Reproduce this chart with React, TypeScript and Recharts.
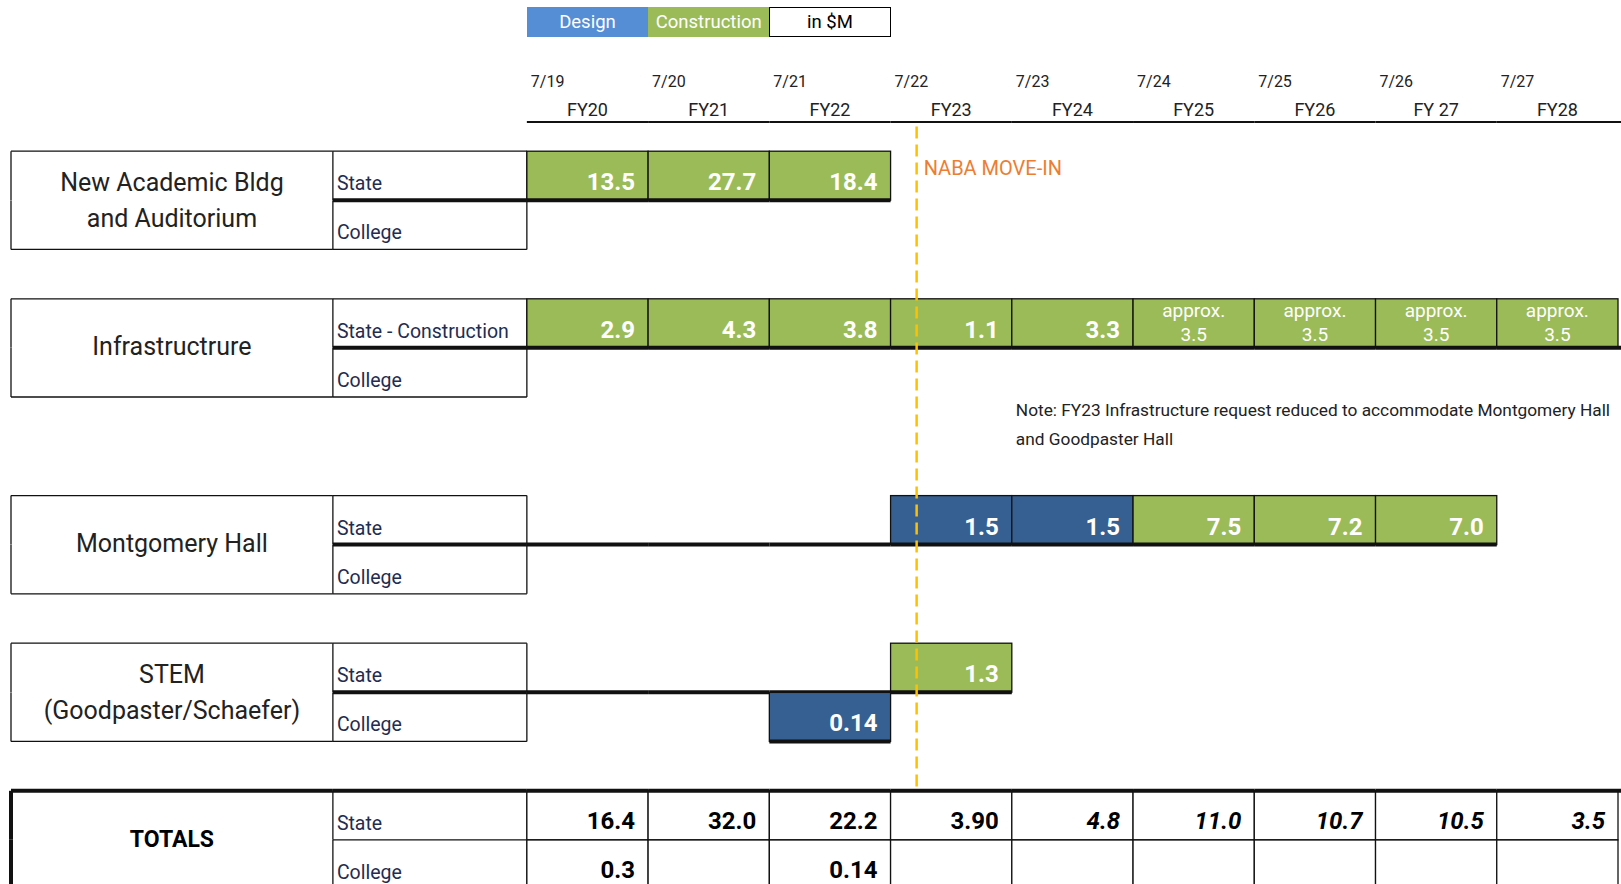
import React from 'react';
import { BarChart, Bar, XAxis, YAxis, ReferenceLine, Legend } from 'recharts';

// ---------------- data ----------------
const yearStarts = ['7/19', '7/20', '7/21', '7/22', '7/23', '7/24', '7/25', '7/26', '7/27'];
const fiscalYears = ['FY20', 'FY21', 'FY22', 'FY23', 'FY24', 'FY25', 'FY26', 'FY 27', 'FY28'];
const legendLabels = ['Design', 'Construction', 'in $M'];

const projectKeys = ['naba', 'infra', 'mont', 'stem'];
const projectNames = [
  ['New Academic Bldg', 'and Auditorium'],
  ['Infrastructrure'],
  ['Montgomery Hall'],
  ['STEM', '(Goodpaster/Schaefer)'],
];
const stateLabels = ['State', 'State - Construction', 'State', 'State'];
const collegeLabel = 'College';

// D = design, C = construction, '' = none
const nabaState = [13.5, 27.7, 18.4, null, null, null, null, null, null];
const nabaStatePhase = ['C', 'C', 'C', '', '', '', '', '', ''];
const nabaCollege = [null, null, null, null, null, null, null, null, null];
const nabaCollegePhase = ['', '', '', '', '', '', '', '', ''];

const infraState = [2.9, 4.3, 3.8, 1.1, 3.3, 3.5, 3.5, 3.5, 3.5];
const infraStatePhase = ['C', 'C', 'C', 'C', 'C', 'C', 'C', 'C', 'C'];
const infraStateApprox = [false, false, false, false, false, true, true, true, true];
const infraCollege = [null, null, null, null, null, null, null, null, null];
const infraCollegePhase = ['', '', '', '', '', '', '', '', ''];

const montState = [null, null, null, 1.5, 1.5, 7.5, 7.2, 7.0, null];
const montStatePhase = ['', '', '', 'D', 'D', 'C', 'C', 'C', ''];
const montCollege = [null, null, null, null, null, null, null, null, null];
const montCollegePhase = ['', '', '', '', '', '', '', '', ''];

const stemState = [null, null, null, 1.3, null, null, null, null, null];
const stemStatePhase = ['', '', '', 'C', '', '', '', '', ''];
const stemCollege = [null, null, 0.14, null, null, null, null, null, null];
const stemCollegePhase = ['', '', 'D', '', '', '', '', '', ''];

const totalsLabel = 'TOTALS';
const totalState = [16.4, 32.0, 22.2, 3.9, 4.8, 11.0, 10.7, 10.5, 3.5];
const totalStateDecimals = [1, 1, 1, 2, 1, 1, 1, 1, 1];
const totalStateItalic = [false, false, false, false, true, true, true, true, true];
const totalCollege = [0.3, null, 0.14, null, null, null, null, null, null];
const totalCollegeDecimals = [1, 1, 2, 1, 1, 1, 1, 1, 1];

const moveInYear = 3.215;
const moveInLabel = 'NABA MOVE-IN';
const approxWord = 'approx.';
const noteYear = 4;
const noteLines = [
  'Note: FY23 Infrastructure request reduced to accommodate Montgomery Hall',
  'and Goodpaster Hall',
];

// ---------------- layout / style ----------------
const W = 1621;
const H = 900;
const AXIS_H = 2;
const PLOT_TOP = 102;
const M_TOP = PLOT_TOP - AXIS_H;
const M_BOTTOM = 10.8;
const M_LEFT = 11;
const M_RIGHT = 3;
const LABEL_W = 2.655; // label column width in year units
const SUB_W = 1.6; // sub-label column width in year units
const X_MIN = -(LABEL_W + SUB_W);
const YEARS = fiscalYears.length;
const COL_PX = (W - M_LEFT - M_RIGHT) / (YEARS - X_MIN);

const FONT = 'Roboto, "Noto Sans", "Liberation Sans", sans-serif';
const INK = '#111111';
const THIN = 1.3;
const THICK = 4;
const DESIGN_LEGEND = '#558ED5';
const DESIGN_BAR = '#366092';
const CONSTRUCTION = '#9BBB59';
const SUB_TEXT = '#1F2D50';
const ORANGE_TEXT = '#ED7D31';
const MOVE_LINE = '#FFC000';

const projectSeries = [
  { state: nabaState, statePhase: nabaStatePhase, stateApprox: null as boolean[] | null, college: nabaCollege, collegePhase: nabaCollegePhase },
  { state: infraState, statePhase: infraStatePhase, stateApprox: infraStateApprox, college: infraCollege, collegePhase: infraCollegePhase },
  { state: montState, statePhase: montStatePhase, stateApprox: null, college: montCollege, collegePhase: montCollegePhase },
  { state: stemState, statePhase: stemStatePhase, stateApprox: null, college: stemCollege, collegePhase: stemCollegePhase },
];
const gapsAfter = [1, 2, 1, 1];

const yearKeys = fiscalYears.map((_, i) => `c${i}`);
const unitCells = () => Object.fromEntries(yearKeys.map((k) => [k, 1]));

function buildRows() {
  const rows: any[] = [{ row: 'hdr', type: 'hdr', sub: 0, lab: 0, ...unitCells() }];
  projectKeys.forEach((key, pi) => {
    const s = projectSeries[pi];
    const lastIdx = s.state.reduce((m: number, v, i) => (v != null ? i : m), -1);
    rows.push({
      row: key + 'S', type: 'proj', part: 'S', name: projectNames[pi], subLabel: stateLabels[pi],
      values: s.state, phases: s.statePhase, approx: s.stateApprox, lastIdx,
      sub: -SUB_W, lab: -LABEL_W, ...unitCells(),
    });
    rows.push({
      row: key + 'C', type: 'proj', part: 'C', subLabel: collegeLabel,
      values: s.college, phases: s.collegePhase, approx: null, lastIdx: -1,
      sub: -SUB_W, lab: -LABEL_W, ...unitCells(),
    });
    for (let g = 0; g < gapsAfter[pi]; g++) {
      rows.push({ row: `${key}Gap${g}`, type: 'gap', note: key === 'infra' && g === 0, sub: 0, lab: 0, ...unitCells() });
    }
  });
  rows.push({
    row: 'totS', type: 'total', part: 'S', name: [totalsLabel], subLabel: 'State',
    values: totalState, decimals: totalStateDecimals, italic: totalStateItalic,
    sub: -SUB_W, lab: -LABEL_W, ...unitCells(),
  });
  rows.push({
    row: 'totC', type: 'total', part: 'C', subLabel: collegeLabel,
    values: totalCollege, decimals: totalCollegeDecimals, italic: null,
    sub: -SUB_W, lab: -LABEL_W, ...unitCells(),
  });
  return rows;
}
const rows = buildRows();
const BAND = (H - PLOT_TOP - M_BOTTOM) / rows.length;

const fmt = (v: number) => v.toFixed(v < 1 ? 2 : 1);

function ln(x1: number, y1: number, x2: number, y2: number, w: number, key?: string) {
  return <line key={key} x1={x1} y1={y1} x2={x2} y2={y2} stroke={INK} strokeWidth={w} />;
}

function renderCell(p: any, col: string | number) {
  const r = p.payload;
  if (!r) return <g />;
  let x = p.x as number;
  let w = p.width as number;
  const y = p.y as number;
  const h = p.height as number;
  if (w < 0) {
    x += w;
    w = -w;
  }
  if (!(w > 0.5)) return <g />;
  const bottom = y + h;
  const isLastCol = col === YEARS - 1;
  const edge = isLastCol ? M_RIGHT : 0;

  if (r.type === 'hdr') {
    if (typeof col === 'number') return ln(x, y + 20, x + w + edge, y + 20, 2);
    return <g />;
  }
  if (r.type === 'gap') {
    if (r.note && col === noteYear) {
      return (
        <text fontFamily={FONT} fontSize={17.3} fill="#222">
          <tspan x={x + 4} y={y + 19}>{noteLines[0]}</tspan>
          <tspan x={x + 4} y={y + 48}>{noteLines[1]}</tspan>
        </text>
      );
    }
    return <g />;
  }
  const isTot = r.type === 'total';

  if (col === 'lab') {
    const lines: string[] = r.name || [];
    const cx = x + w / 2;
    return (
      <g>
        {ln(x, y, x, bottom, isTot ? THICK : THIN, 'l')}
        {r.part === 'S' ? ln(x, y, x + w, y, isTot ? THICK : THIN, 't') : !isTot ? ln(x, bottom, x + w, bottom, THIN, 'b') : null}
        {r.part === 'S' && lines.length === 2 && (
          <text fontFamily={FONT} fontSize={25} fill="#222" textAnchor="middle">
            <tspan x={cx} y={bottom - 9}>{lines[0]}</tspan>
            <tspan x={cx} y={bottom + 27}>{lines[1]}</tspan>
          </text>
        )}
        {r.part === 'S' && lines.length === 1 && (
          <text x={cx} y={bottom + 7} fontFamily={FONT} fontSize={isTot ? 23 : 25} fontWeight={isTot ? 700 : 400} fill={isTot ? '#000' : '#222'} textAnchor="middle">
            {lines[0]}
          </text>
        )}
      </g>
    );
  }
  if (col === 'sub') {
    return (
      <g>
        {ln(x, y, x, bottom, THIN, 'l')}
        {ln(x + w, y, x + w, bottom, THIN, 'r')}
        {r.part === 'S' && ln(x, y, x + w, y, isTot ? THICK : THIN, 't')}
        {r.part === 'S' && ln(x, bottom, x + w, bottom, isTot ? THIN : THICK, 'b')}
        {r.part === 'C' && !isTot && ln(x, bottom, x + w, bottom, THIN, 'b2')}
        <text x={x + 4} y={bottom - 10} fontFamily={FONT} fontSize={19.5} fill={SUB_TEXT}>
          {r.subLabel}
        </text>
      </g>
    );
  }
  const i = col as number;
  const v = r.values[i];
  if (isTot) {
    return (
      <g>
        <rect x={x} y={y} width={w} height={h} fill="#fff" stroke={INK} strokeWidth={THIN} />
        {r.part === 'S' && ln(x, y, x + w + edge, y, THICK, 't')}
        {v != null && (
          <text x={x + w - 13} y={bottom - 11} textAnchor="end" fontFamily={FONT} fontSize={24} fontWeight={700}
            fontStyle={r.italic && r.italic[i] ? 'italic' : 'normal'} fill="#000">
            {v.toFixed(r.decimals[i])}
          </text>
        )}
      </g>
    );
  }
  if (v != null) {
    const fill = r.phases[i] === 'D' ? DESIGN_BAR : CONSTRUCTION;
    const approx = r.approx && r.approx[i];
    return (
      <g>
        <rect x={x} y={y} width={w} height={h} fill={fill} stroke={INK} strokeWidth={THIN} />
        {ln(x, bottom, x + w + edge, bottom, THICK, 'b')}
        {approx ? (
          <text fontFamily={FONT} fontSize={19} fill="#fff" textAnchor="middle">
            <tspan x={x + w / 2} y={y + 18}>{approxWord}</tspan>
            <tspan x={x + w / 2} y={bottom - 7}>{fmt(v)}</tspan>
          </text>
        ) : (
          <text x={x + w - 13} y={bottom - 10} textAnchor="end" fontFamily={FONT} fontSize={24} fontWeight={700} fill="#fff">
            {fmt(v)}
          </text>
        )}
      </g>
    );
  }
  if (r.part === 'S' && i <= r.lastIdx) return ln(x, bottom, x + w, bottom, THICK);
  return <g />;
}

// tick at each fiscal-year start: start date (left) and fiscal year (centred in the column)
const YearTick = (p: any) => {
  const i = Math.round(p.payload.value);
  if (i < 0 || i >= YEARS) return <g />;
  return (
    <g>
      <text x={p.x + 4} y={p.y - 15} fontFamily={FONT} fontSize={16} fill="#222">
        {yearStarts[i]}
      </text>
      <text x={p.x + COL_PX / 2} y={p.y + 14} textAnchor="middle" fontFamily={FONT} fontSize={18} fill="#222">
        {fiscalYears[i]}
      </text>
    </g>
  );
};

const legendFills = [DESIGN_LEGEND, CONSTRUCTION, '#FFFFFF'];
const legendText = ['#FFFFFF', '#FFFFFF', '#000000'];
const LegendBoxes = () => (
  <div style={{ display: 'flex', height: 30 }}>
    {legendLabels.map((l, i) => (
      <div
        key={l}
        style={{
          width: COL_PX, height: 30, boxSizing: 'border-box', background: legendFills[i], color: legendText[i],
          border: i === 2 ? '1.5px solid #000' : 'none', display: 'flex', alignItems: 'center', justifyContent: 'center',
          fontFamily: FONT, fontSize: 18.5,
        }}
      >
        {l}
      </div>
    ))}
  </div>
);

const MoveInShape = (p: any) => (
  <g>
    <line x1={p.x1} y1={p.y1} x2={p.x2} y2={p.y2 - BAND / 2} stroke={MOVE_LINE} strokeWidth={2.5} strokeDasharray="12 6" />
    <text x={p.x1 + 7} y={p.y1 + 48} fontFamily={FONT} fontSize={20} fill={ORANGE_TEXT}>
      {moveInLabel}
    </text>
  </g>
);

export default function App() {
  return (
    <div style={{ position: 'absolute', left: 0, top: 0, width: W, height: 884, overflow: 'hidden', background: '#fff' }}>
      <style>{'body{margin:0;overflow:hidden;background:#fff}'}</style>
      <BarChart
        width={W}
        height={H}
        data={rows}
        layout="vertical"
        margin={{ top: M_TOP, right: M_RIGHT, bottom: M_BOTTOM, left: M_LEFT }}
        barCategoryGap={0}
        barGap={0}
        stackOffset="sign"
      >
        <XAxis
          type="number" orientation="top" domain={[X_MIN, YEARS]} height={AXIS_H}
          ticks={yearStarts.map((_, i) => i)} interval={0} axisLine={false} tickLine={false}
          tickSize={0} tickMargin={0} tick={YearTick}
        />
        <YAxis type="category" dataKey="row" hide />
        <Legend
          verticalAlign="middle" align="center" layout="horizontal"
          wrapperStyle={{ top: 7, left: M_LEFT + (0 - X_MIN) * COL_PX, width: COL_PX * 3, height: 30 }}
          content={() => <LegendBoxes />}
        />
        <Bar dataKey="sub" stackId="s" isAnimationActive={false} shape={(p: any) => renderCell(p, 'sub')} />
        <Bar dataKey="lab" stackId="s" isAnimationActive={false} shape={(p: any) => renderCell(p, 'lab')} />
        {yearKeys.map((k, i) => (
          <Bar key={k} dataKey={k} stackId="s" isAnimationActive={false} shape={(p: any) => renderCell(p, i)} />
        ))}
        <ReferenceLine
          segment={[{ x: moveInYear, y: 'hdr' }, { x: moveInYear, y: 'totS' }]}
          ifOverflow="visible"
          shape={MoveInShape}
        />
      </BarChart>
    </div>
  );
}
